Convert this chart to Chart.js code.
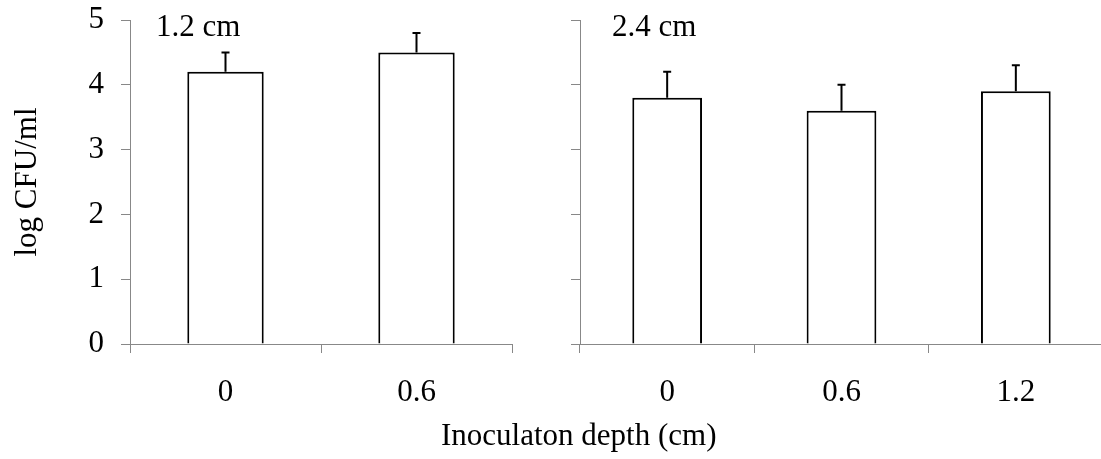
<!DOCTYPE html>
<html lang="en">
<head>
  <meta charset="UTF-8">
  <title>log CFU/ml by inoculation depth</title>
  <script src="https://cdn.jsdelivr.net/npm/chart.js"></script>
  <style>
    * { box-sizing: border-box; margin: 0; padding: 0; }
    html, body {
      width: 1101px;
      height: 459px;
      overflow: hidden;
      background: #fff;
    }
    body { position: relative; font-family: "Liberation Serif", "Times New Roman", serif; }
    canvas { position: absolute; top: 0; }
    #leftChart { left: 0; }
    #rightChart { left: 540px; }
    #xTitle {
      position: absolute;
      left: 441px;
      top: 419px;
      font-size: 31px;
      line-height: 31px;
      color: #000;
      white-space: nowrap;
    }
  </style>
</head>
<body>
  <canvas id="leftChart" width="545" height="459"></canvas>
  <canvas id="rightChart" width="575" height="459"></canvas>
  <div id="xTitle">Inoculaton depth (cm)</div>

  <script>
    // data: two panels, mean log CFU/ml with upper error bars
    const leftDepths  = ['0', '0.6'];
    const leftMeans   = [4.2, 4.5];
    const leftErrors  = [0.3, 0.3];

    const rightDepths = ['0', '0.6', '1.2'];
    const rightMeans  = [3.8, 3.6, 3.9];
    const rightErrors = [0.4, 0.4, 0.4];

    const yMin = 0, yMax = 5, yStep = 1;
    const panelLabels = ['1.2 cm', '2.4 cm'];

    const FONT = 'Liberation Serif';
    const FONT_SIZE = 31;
    const AXIS_GREY = '#888888';

    Chart.defaults.font.family = FONT;
    Chart.defaults.font.size = FONT_SIZE;
    Chart.defaults.color = '#000';

    // upper-only error whiskers with a small cap
    const errorBars = {
      id: 'errorBars',
      afterDatasetsDraw(chart) {
        const ctx = chart.ctx;
        const y = chart.scales.y;
        chart.data.datasets.forEach((ds, i) => {
          const meta = chart.getDatasetMeta(i);
          meta.data.forEach((bar, j) => {
            const top = y.getPixelForValue(ds.data[j] + ds.errors[j]);
            const base = y.getPixelForValue(ds.data[j]);
            ctx.save();
            ctx.strokeStyle = '#000';
            ctx.lineWidth = 2;
            ctx.beginPath();
            ctx.moveTo(bar.x, base);
            ctx.lineTo(bar.x, top);
            ctx.moveTo(bar.x - 4, top);
            ctx.lineTo(bar.x + 4, top);
            ctx.stroke();
            ctx.restore();
          });
        });
      }
    };

    // panel caption in the upper left of the plot area
    const panelLabel = {
      id: 'panelLabel',
      afterDraw(chart, args, opts) {
        const ctx = chart.ctx;
        ctx.save();
        ctx.font = FONT_SIZE + 'px "' + FONT + '"';
        ctx.fillStyle = '#000';
        ctx.textBaseline = 'middle';
        ctx.textAlign = 'left';
        ctx.fillText(opts.text, chart.chartArea.left + opts.dx, opts.y);
        ctx.restore();
      }
    };

    function makePanel(canvasId, labels, means, errors, opts) {
      const ctx = document.getElementById(canvasId).getContext('2d');
      return new Chart(ctx, {
        type: 'bar',
        data: {
          labels,
          datasets: [{
            data: means,
            errors,
            backgroundColor: '#fff',
            borderColor: '#000',
            borderWidth: 2,
            borderSkipped: 'start',
            categoryPercentage: 0.4,
            barPercentage: 1
          }]
        },
        options: {
          responsive: false,
          animation: false,
          layout: { padding: { left: 0, right: opts.padRight, top: 20, bottom: 0 } },
          plugins: {
            legend: { display: false },
            tooltip: { enabled: false },
            panelLabel: { text: opts.caption, dx: opts.captionDx, y: 28 }
          },
          scales: {
            x: {
              offset: true,
              grid: {
                offset: true,
                drawOnChartArea: false,
                color: AXIS_GREY,
                tickLength: 9
              },
              border: { display: true, color: AXIS_GREY, width: 1 },
              ticks: { padding: 21, maxRotation: 0 },
              afterFit(s) {
                s.height = 115;
                s.paddingLeft = 0;
                s.paddingRight = 0;
              }
            },
            y: {
              min: yMin,
              max: yMax,
              ticks: { stepSize: yStep, padding: 17, display: opts.showYLabels },
              grid: {
                drawOnChartArea: false,
                color: AXIS_GREY,
                tickLength: 9
              },
              border: { display: true, color: AXIS_GREY, width: 1 },
              title: {
                display: opts.showYLabels,
                text: 'log CFU/ml',
                padding: { top: 9, bottom: 0 }
              },
              afterFit(s) {
                s.width = opts.yWidth;
                s.paddingTop = 0;
                s.paddingBottom = 0;
              }
            }
          }
        },
        plugins: [errorBars, panelLabel]
      });
    }

    makePanel('leftChart', leftDepths, leftMeans, leftErrors, {
      padRight: 33, yWidth: 130, showYLabels: true, caption: panelLabels[0], captionDx: 26
    });
    makePanel('rightChart', rightDepths, rightMeans, rightErrors, {
      padRight: 12, yWidth: 40, showYLabels: false, caption: panelLabels[1], captionDx: 32
    });
  </script>
</body>
</html>
